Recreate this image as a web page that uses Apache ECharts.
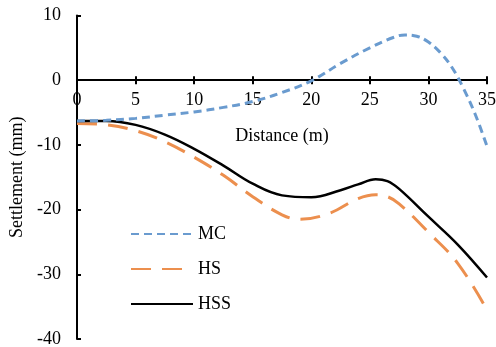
<!DOCTYPE html>
<html>
<head>
<meta charset="utf-8">
<script src="https://cdn.jsdelivr.net/npm/echarts@6/dist/echarts.min.js"></script>
<style>
  html, body { margin: 0; padding: 0; background: #fff; }
  #chart { width: 496px; height: 347px; }
</style>
</head>
<body>
<div id="chart"></div>
<script>
// Settlement profiles along the distance (m) for the three soil models
const mcX = [0, 2.5, 5, 7.5, 10, 12.5, 15, 17.5, 20, 22.5, 25, 27, 28, 29, 30, 31, 32, 33, 34, 35];
const mcY = [-6.3, -6.2, -5.9, -5.4, -4.9, -4.2, -3.3, -1.9, -0.1, 2.6, 5.0, 6.6, 7.0, 6.8, 5.9, 4.3, 2.0, -1.3, -5.3, -10.2];

const hsX = [0, 2.5, 5, 7.5, 10, 12.5, 15, 17.5, 19, 21.5, 24, 25.5, 26.5, 27.5, 30, 32.5, 35];
const hsY = [-6.7, -6.9, -7.8, -9.5, -11.9, -14.7, -18.0, -20.8, -21.5, -20.6, -18.3, -17.7, -18.0, -19.1, -23.5, -28.3, -35.5];

const hssX = [0, 2.5, 5, 7.5, 10, 12.5, 15, 17.5, 20, 22.5, 24, 25.5, 26.5, 27.5, 30, 32.5, 35];
const hssY = [-6.3, -6.3, -6.9, -8.4, -10.6, -13.2, -16.0, -17.8, -18.1, -17.0, -16.1, -15.3, -15.6, -16.8, -21.1, -25.4, -30.5];

const seriesNames = ['MC', 'HS', 'HSS'];
const xTicks = [0, 5, 10, 15, 20, 25, 30, 35];
const yTicks = [-40, -30, -20, -10, 0, 10];

const pairs = (xs, ys) => xs.map((x, i) => [x, ys[i]]);

const FONT = '"Liberation Serif", "Times New Roman", serif';
const AXIS_COLOR = '#000';

const GRID = { left: 77, right: 9, top: 15.5, bottom: 8 };
const CHART_H = 347;
const yMin = yTicks[0], yMax = yTicks[yTicks.length - 1];
// distance from the plot's bottom edge up to the zero line; the x axis sits there
const plotH = CHART_H - GRID.top - GRID.bottom;
const zeroLift = plotH * (0 - yMin) / (yMax - yMin);

const chart = echarts.init(document.getElementById('chart'), null, { renderer: 'canvas' });

const baseX = {
  type: 'value',
  min: xTicks[0],
  max: xTicks[xTicks.length - 1],
  interval: 5,
  position: 'bottom',
  offset: -zeroLift,
  splitLine: { show: false }
};

chart.setOption({
  animation: false,
  textStyle: { fontFamily: FONT },
  grid: Object.assign({ containLabel: false, outerBoundsMode: 'none' }, GRID),
  legend: {
    orient: 'vertical',
    left: 125,
    top: 220,
    itemWidth: 62,
    itemHeight: 14,
    itemGap: 17,
    data: seriesNames,
    itemStyle: { opacity: 0 },
    textStyle: { fontFamily: FONT, fontSize: 18, color: '#000' }
  },
  xAxis: [
    Object.assign({}, baseX, {
      name: 'Distance (m)',
      nameLocation: 'middle',
      nameGap: 47,
      nameTextStyle: { fontFamily: FONT, fontSize: 18, color: '#000' },
      axisLine: { show: true, onZero: false, lineStyle: { color: AXIS_COLOR, width: 2 } },
      axisTick: { show: true, inside: true, length: 4, lineStyle: { color: AXIS_COLOR, width: 2 } },
      axisLabel: { fontFamily: FONT, fontSize: 18, color: '#000', margin: 11 }
    }),
    // second copy on the zero line carries the outward half of the crossing ticks
    Object.assign({}, baseX, {
      axisLine: { show: false, onZero: false },
      axisTick: { show: true, inside: false, length: 4, lineStyle: { color: AXIS_COLOR, width: 2 } },
      axisLabel: { show: false }
    })
  ],
  yAxis: {
    type: 'value',
    min: yMin,
    max: yMax,
    interval: 10,
    name: 'Settlement (mm)',
    nameLocation: 'middle',
    nameGap: 50,
    nameTextStyle: { fontFamily: FONT, fontSize: 18, color: '#000' },
    axisLine: { show: true, onZero: false, lineStyle: { color: AXIS_COLOR, width: 2 } },
    axisTick: { show: true, inside: true, length: 4, lineStyle: { color: AXIS_COLOR, width: 2 } },
    axisLabel: { fontFamily: FONT, fontSize: 18, color: '#000', margin: 16 },
    splitLine: { show: false }
  },
  series: [
    {
      name: seriesNames[0],
      type: 'line',
      data: pairs(mcX, mcY),
      smooth: 0.4,
      symbol: 'none',
      z: 3,
      itemStyle: { color: '#6A9BCF' },
      lineStyle: { color: '#6A9BCF', width: 3, type: [8, 5] }
    },
    {
      name: seriesNames[1],
      type: 'line',
      data: pairs(hsX, hsY),
      smooth: 0.4,
      symbol: 'none',
      z: 2,
      itemStyle: { color: '#EC8F4E' },
      lineStyle: { color: '#EC8F4E', width: 3, type: [20, 11] }
    },
    {
      name: seriesNames[2],
      type: 'line',
      data: pairs(hssX, hssY),
      smooth: 0.4,
      symbol: 'none',
      z: 2,
      itemStyle: { color: '#000' },
      lineStyle: { color: '#000', width: 2.5 }
    }
  ]
});
</script>
</body>
</html>
